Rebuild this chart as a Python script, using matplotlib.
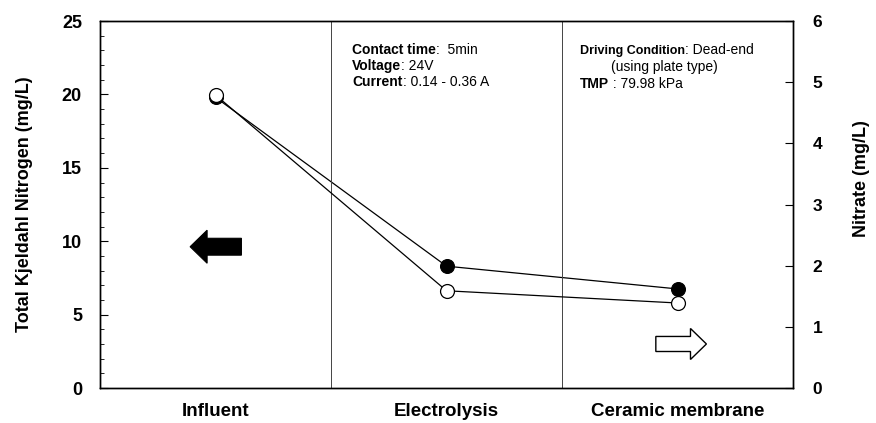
import numpy as np
import matplotlib.pyplot as plt
from matplotlib.patches import FancyArrow
from matplotlib.ticker import MultipleLocator

plt.rcParams['font.family'] = ['Liberation Sans', 'DejaVu Sans']

# Daten
stufen = ["Influent", "Electrolysis", "Ceramic membrane"]
tkn = [19.8, 8.3, 6.75]         # Total Kjeldahl Nitrogen (mg/L), linke Achse
nitrat = [4.79, 1.59, 1.39]     # Nitrate (mg/L), rechte Achse

x = np.arange(len(stufen))

fig = plt.figure(figsize=(8.76, 4.23), dpi=100)
ax = fig.add_axes([0.1142, 0.0827, 0.7911, 0.8676])
ax2 = ax.twinx()

ax.plot(x, tkn, "-", color="black", lw=0.9, marker="o", ms=10,
        mfc="black", mec="black", mew=0.8)
ax2.plot(x, nitrat, "-", color="black", lw=0.9, marker="o", ms=10,
         mfc="white", mec="black", mew=0.9)

ax.set_xlim(-0.5, 2.5)
ax.set_ylim(0, 25)
ax2.set_ylim(0, 6)

# Trennlinien zwischen den Stufen
for xv in [0.5, 1.5]:
    ax.axvline(xv, color="#444444", lw=0.7)

ax.set_xticks(x)
ax.set_xticklabels(stufen, fontsize=13.5, fontweight="bold")
ax.tick_params(axis="x", length=0, pad=11)

ax.yaxis.set_major_locator(MultipleLocator(5))
ax.yaxis.set_minor_locator(MultipleLocator(1))
ax.tick_params(axis="y", which="major", direction="in", length=6, labelsize=13, pad=13)
ax.tick_params(axis="y", which="minor", direction="in", length=3)
for lab in ax.get_yticklabels():
    lab.set_fontweight("bold")

ax2.yaxis.set_major_locator(MultipleLocator(1))
ax2.tick_params(axis="y", direction="in", length=6, labelsize=12.5, pad=14)
for lab in ax2.get_yticklabels():
    lab.set_fontweight("bold")

ax.set_ylabel("Total Kjeldahl Nitrogen (mg/L)", fontsize=13, fontweight="bold")
ax.yaxis.set_label_coords(-0.097, 0.5)
ax2.set_ylabel("Nitrate (mg/L)", fontsize=13, fontweight="bold")
ax2.yaxis.set_label_coords(1.087, 0.57)

for a in (ax, ax2):
    for s in a.spines.values():
        s.set_linewidth(1.0)


# Beschriftungen: fetter Teil + normaler Teil
def zeile(xa, ya, fett, normal, fs_fett=10, fs=10):
    t = ax.text(xa, ya, fett, transform=ax.transAxes, fontsize=fs_fett,
                fontweight="bold", va="center", ha="left")
    ax.annotate(normal, xy=(1, 0), xycoords=t, va="bottom", ha="left",
                fontsize=fs)


zeile(0.364, 0.921, "Contact time", ":  5min")
zeile(0.364, 0.877, "Voltage", ": 24V")
zeile(0.364, 0.834, "Current", ": 0.14 - 0.36 A")

zeile(0.693, 0.919, "Driving Condition", ": Dead-end", fs_fett=9)
ax.text(0.738, 0.874, "(using plate type)", transform=ax.transAxes,
        fontsize=10, va="center", ha="left")
zeile(0.693, 0.829, "TMP", " : 79.98 kPa")

# Pfeile (Achsenzuordnung)
ax.add_patch(FancyArrow(0.204, 0.385, -0.074, 0, width=0.046, head_width=0.090,
                        head_length=0.0245, length_includes_head=True,
                        transform=ax.transAxes, fc="black", ec="black", lw=0.8))
ax.add_patch(FancyArrow(0.802, 0.12, 0.073, 0, width=0.041, head_width=0.0845,
                        head_length=0.023, length_includes_head=True,
                        transform=ax.transAxes, fc="white", ec="black", lw=1.0))

fig.savefig("out.png", dpi=100)
